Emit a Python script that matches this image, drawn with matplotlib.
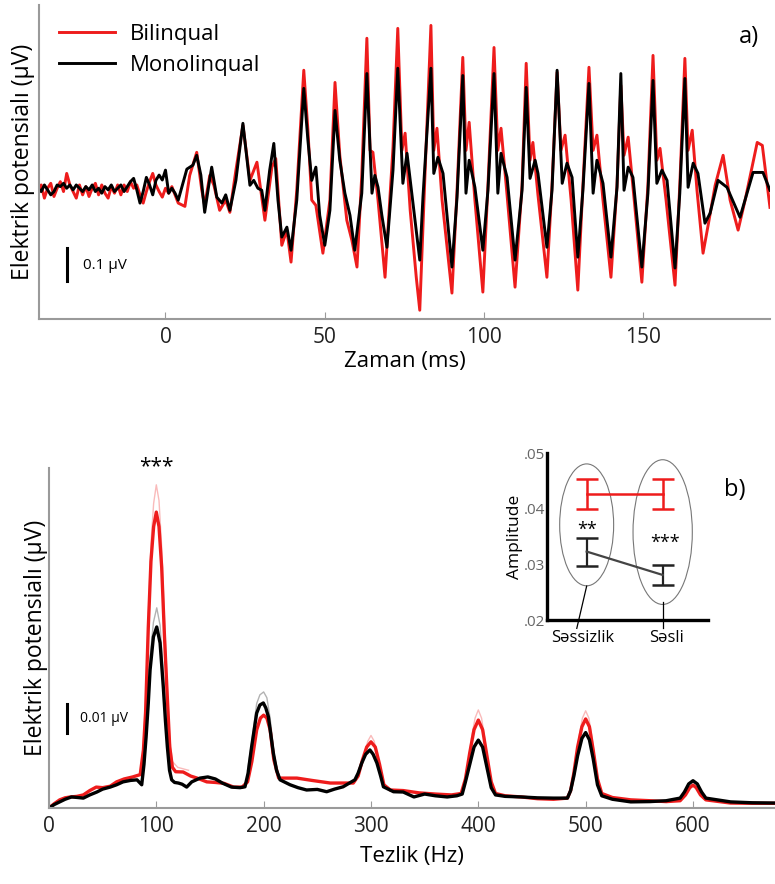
import numpy as np
import matplotlib.pyplot as plt
from matplotlib.patches import Ellipse

plt.rcParams['font.family'] = ['Open Sans', 'DejaVu Sans']

# ---------------- a) time domain (ms, uV) ----------------
t_black = [-40, -39, -38, -37, -36, -35, -34, -33, -32, -31, -30, -29, -28, -27, -26,
           -25, -24, -23, -22, -21, -20, -19, -18, -17, -16, -15, -14, -13, -12, -11,
           -10, -9, -8, -7, -6, -5, -4, -3, -2, -1, 0, 1, 2, 3, 4,
           6.7, 8.6, 9.8, 11.1, 12.3, 13.6, 14.5, 16.1, 17.7, 18.9, 20.2, 22.1, 24.3,
           26.5, 27.7, 29.0, 30.2, 31.2, 32.7, 34.0, 35.3, 36.5, 38.1, 39.4, 41.2,
           43.4, 44.7, 45.9, 47.2, 48.4, 50.0, 51.6, 53.2, 54.7, 56.3, 57.9, 59.4,
           61.6, 63.2, 64.8, 65.7, 66.7, 67.9, 69.5, 71.4, 72.9, 74.5, 75.8, 77.3,
           79.8, 80.8, 83.3, 84.2, 85.5, 87.1, 89.9, 91.5, 93.3, 94.3, 95.3, 97.1,
           99.6, 101.2, 103.1, 104.3, 105.3, 107.2, 109.7, 111.9, 113.2, 114.4, 116.0,
           116.9, 119.7, 121.3, 122.9, 124.5, 126.0, 127.6, 129.4, 131.0, 132.9,
           134.2, 135.4, 137.3, 139.8, 141.7, 142.9, 143.9, 145.2, 146.7, 149.5,
           151.4, 153.0, 154.2, 155.8, 157.4, 159.9, 161.4, 163.0, 164.0, 165.6,
           167.1, 169.3, 170.9, 173.4, 176.2, 180.3, 184.4, 187.5, 189.7]
v_black = [0.00, -0.01, 0.01, -0.005, -0.02, -0.01, 0.01, 0.005, 0.015, 0.0, 0.01,
           -0.005, 0.01, 0.0, -0.01, 0.005, -0.005, 0.01, -0.01, 0.0, -0.015, 0.005,
           -0.005, 0.01, -0.01, 0.0, 0.01, -0.01, 0.005, 0.02, 0.03, -0.005, -0.045,
           -0.01, 0.033, 0.01, -0.02, 0.024, 0.04, 0.025, 0.055, -0.015, 0.0, -0.015,
           -0.036,
           0.058, 0.07, 0.10, 0.04, -0.073, 0.01, 0.064, -0.027, -0.045, -0.02, -0.067,
           0.024, 0.197, 0.009, 0.024, 0.0, -0.006, -0.067, 0.055, 0.136, -0.036,
           -0.148, -0.118, -0.188, -0.036, 0.303, 0.145, 0.024, 0.064, -0.082, -0.173,
           -0.067, 0.236, 0.085, -0.015, -0.082, -0.188, -0.015, 0.348, -0.015, 0.039,
           0.003, -0.082, -0.179, 0.055, 0.364, 0.015, 0.106, -0.015, -0.218, -0.027,
           0.364, 0.045, 0.094, 0.045, -0.239, -0.027, 0.342, -0.015, 0.085, 0.003,
           -0.188, -0.006, 0.348, -0.015, 0.106, 0.033, -0.218, -0.006, 0.306, 0.03,
           0.085, 0.045, -0.179, -0.006, 0.358, 0.015, 0.076, 0.033, -0.209, -0.006,
           0.318, -0.015, 0.085, 0.015, -0.209, 0.003, 0.348, -0.006, 0.064, 0.033,
           -0.239, -0.015, 0.327, 0.015, 0.055, 0.024, -0.242, -0.015, 0.333, 0.003,
           0.076, 0.045, -0.106, -0.076, 0.024, 0.003, -0.088, 0.048, 0.048, -0.006]

t_red = [-40, -39, -38, -37, -36, -35, -34, -33, -32, -31, -30, -29, -28, -27, -26,
         -25, -24, -23, -22, -21, -20, -19, -18, -17, -16, -15, -14, -13, -12, -11,
         -10, -9, -8, -7, -6, -5, -4, -3, -2, -1, 0, 1, 2, 3, 4,
         6.1, 7.6, 9.8, 11.4, 12.3, 13.9, 15.2, 17.0, 18.9, 20.2, 22.1, 24.3, 26.5,
         28.7, 31.2, 33.4, 34.6, 36.5, 38.1, 39.4, 41.2, 43.4, 44.7, 45.9, 47.2,
         49.4, 51.6, 53.2, 54.7, 56.9, 58.5, 60.1, 61.6, 63.2, 64.2, 65.1, 66.7,
         68.9, 71.4, 72.9, 74.2, 75.2, 76.8, 78.7, 79.8, 81.4, 83.3, 84.2, 85.2,
         86.8, 89.9, 91.5, 93.3, 94.3, 95.3, 97.1, 99.6, 101.2, 103.1, 104.3, 105.3,
         107.2, 109.7, 111.9, 113.2, 114.4, 115.3, 116.9, 119.7, 121.3, 122.9, 124.1,
         125.4, 127.3, 129.4, 131.0, 132.9, 134.2, 135.4, 137.3, 139.8, 141.7, 142.9,
         143.9, 145.2, 147.1, 149.5, 151.4, 153.0, 154.2, 155.2, 157.1, 159.9, 161.4,
         163.0, 164.0, 165.3, 166.8, 168.7, 170.3, 172.5, 175.0, 177.2, 179.7, 181.9,
         185.7, 187.3, 189.7]
v_red = [-0.02, 0.01, -0.03, 0.0, 0.015, -0.025, 0.0, 0.02, -0.01, 0.045, 0.01, -0.01,
         -0.03, 0.01, -0.02, 0.005, -0.025, 0.0, 0.015, -0.02, 0.01, -0.015, -0.03,
         0.005, -0.015, 0.01, -0.02, 0.01, -0.01, 0.02, 0.0, 0.01, -0.02, -0.045,
         -0.01, 0.02, 0.045, 0.01, -0.01, -0.027, 0.0, -0.015, 0.005, -0.02, -0.045,
         -0.055, 0.039, 0.109, -0.006, -0.052, 0.039, 0.009, -0.067, -0.036, -0.073,
         0.055, 0.191, 0.024, 0.079, -0.097, 0.064, 0.09, -0.173, -0.127, -0.224,
         -0.006, 0.358, 0.176, -0.036, -0.052, -0.197, -0.036, 0.321, 0.1, -0.097,
         -0.158, -0.239, 0.039, 0.455, 0.115, 0.109, -0.036, -0.27, 0.124, 0.485,
         0.115, 0.167, -0.067, -0.27, -0.37, 0.033, 0.494, 0.115, 0.182, -0.036,
         -0.318, -0.006, 0.397, 0.115, 0.2, -0.036, -0.315, 0.009, 0.427, 0.115,
         0.182, -0.021, -0.3, 0.009, 0.379, 0.085, 0.139, -0.021, -0.27, 0.009, 0.352,
         0.115, 0.161, -0.036, -0.309, 0.009, 0.367, 0.115, 0.161, -0.036, -0.27,
         0.009, 0.312, 0.1, 0.155, -0.036, -0.285, 0.009, 0.403, 0.085, 0.121, -0.036,
         -0.294, 0.009, 0.394, 0.115, 0.176, -0.006, -0.197, -0.112, 0.009, 0.1,
         -0.036, -0.127, -0.036, 0.139, 0.13, -0.058]

# ---------------- b) spectrum (Hz, uV) ----------------
f_red = [0, 5, 10, 15, 20, 26, 32, 38, 44, 50, 57, 63, 70, 78, 85, 88, 90, 92.5, 95,
         97.5, 100, 102.5, 105, 107.5, 110, 112.5, 115, 118, 125, 132, 138, 147, 155,
         163, 172, 180, 185, 189, 193.5, 197, 200, 203, 206, 209.5, 214, 222, 231, 245,
         262, 275, 283.5, 288, 292, 296, 300, 304, 308, 312, 318, 330, 345, 360, 375,
         384, 388, 392, 396, 400, 404, 408, 412, 416, 425, 440, 455, 470, 483, 486,
         489, 492.5, 496.5, 500, 503.5, 507, 511, 515, 525, 542, 560, 575, 588, 593,
         597, 600, 603, 607, 612, 635, 655, 677]
s_red = [0.0, 0.0015, 0.0028, 0.0035, 0.0038, 0.004, 0.0045, 0.006, 0.0072, 0.007,
         0.0075, 0.009, 0.010, 0.0107, 0.0115, 0.020, 0.033, 0.062, 0.085, 0.097, 0.102,
         0.097, 0.083, 0.060, 0.040, 0.021, 0.014, 0.0125, 0.0124, 0.011, 0.0103, 0.009,
         0.0088, 0.0085, 0.0072, 0.0072, 0.009, 0.016, 0.0269, 0.031, 0.032, 0.031,
         0.027, 0.0166, 0.0103, 0.0103, 0.0103, 0.0095, 0.0086, 0.0086, 0.0086, 0.011,
         0.0165, 0.021, 0.0228, 0.021, 0.015, 0.008, 0.0062, 0.006, 0.0052, 0.0048,
         0.0045, 0.005, 0.010, 0.019, 0.027, 0.0303, 0.027, 0.018, 0.009, 0.005, 0.0042,
         0.0038, 0.0032, 0.003, 0.0034, 0.006, 0.012, 0.021, 0.028, 0.0307, 0.028, 0.020,
         0.010, 0.005, 0.0036, 0.0028, 0.0025, 0.0022, 0.0025, 0.0045, 0.007, 0.0079,
         0.007, 0.0045, 0.0028, 0.0017, 0.0016, 0.0016]

f_black = [0, 5, 10, 15, 21, 27, 32, 38, 44.6, 50, 57, 63, 69, 76, 82, 86.4, 88.5, 90.5,
           92.5, 94.2, 97.3, 100.4, 103.5, 106.5, 108.5, 110.3, 112.3, 114.3, 117, 120.5,
           124, 128.3, 133, 140.7, 148, 155, 162, 170, 178, 182.6, 185.5, 188.8, 193.5,
           196.5, 199.7, 202, 204.4, 209, 212, 215.3, 224.6, 232, 240, 250, 258.7, 266,
           274, 285, 288, 291.4, 295, 299, 302, 305.5, 309, 311.6, 321, 330, 340, 350,
           360, 371, 380, 385, 388, 392, 396, 400, 404, 408, 412, 416, 425, 440, 455, 470,
           483, 486, 489, 492.5, 496.5, 500, 503.5, 507, 511, 515, 525, 542, 560, 575,
           588, 592, 596, 600, 604, 608, 612, 635, 655, 677]
s_black = [0.0, 0.0012, 0.0021, 0.003, 0.0038, 0.0036, 0.0034, 0.0045, 0.0055, 0.0065,
           0.0072, 0.008, 0.009, 0.0095, 0.0097, 0.008, 0.015, 0.0245, 0.036, 0.0476,
           0.059, 0.0624, 0.0569, 0.0417, 0.030, 0.021, 0.013, 0.0097, 0.0088, 0.0086,
           0.0082, 0.0072, 0.009, 0.0103, 0.0107, 0.010, 0.0085, 0.0072, 0.007, 0.0073,
           0.012, 0.0211, 0.0327, 0.0355, 0.0362, 0.0345, 0.0315, 0.019, 0.013, 0.0097,
           0.008, 0.007, 0.0062, 0.0064, 0.0056, 0.0065, 0.0073, 0.0097, 0.012, 0.0155,
           0.0185, 0.020, 0.0185, 0.0155, 0.011, 0.0073, 0.0056, 0.0055, 0.0038, 0.0048,
           0.0042, 0.0038, 0.0042, 0.0048, 0.009, 0.015, 0.021, 0.0234, 0.021, 0.014,
           0.007, 0.0045, 0.004, 0.0038, 0.0035, 0.0034, 0.0034, 0.006, 0.011, 0.018,
           0.024, 0.026, 0.0235, 0.017, 0.008, 0.0042, 0.003, 0.0021, 0.0022, 0.0025,
           0.0034, 0.0055, 0.0083, 0.0094, 0.0083, 0.0055, 0.0034, 0.0021, 0.0018, 0.0017]

# faint upper traces around the peaks (nan = gap)
f_red_up = [86, 90, 92.5, 95, 97.5, 100, 102.5, 105, 107.5, 110, 112.5, 115, 120, 130, np.nan,
            290, 294, 297, 300, 303, 306, 310, np.nan,
            386, 390, 394, 397, 400, 403, 406, 410, 414, np.nan,
            486, 490, 494, 497, 500, 503, 506, 510, 514]
s_red_up = [0.012, 0.035, 0.066, 0.091, 0.105, 0.1114, 0.106, 0.090, 0.066, 0.044, 0.024,
            0.016, 0.014, 0.013, np.nan,
            0.013, 0.019, 0.023, 0.025, 0.023, 0.018, 0.011, np.nan,
            0.006, 0.014, 0.025, 0.031, 0.0338, 0.031, 0.024, 0.013, 0.006, np.nan,
            0.006, 0.014, 0.025, 0.031, 0.0335, 0.031, 0.024, 0.013, 0.006]
f_blk_up = [86, 90.5, 92.5, 94.2, 97.3, 100.4, 103.5, 106.5, 110.3, 114, np.nan,
            185, 189, 193.5, 196.5, 200, 203, 206, 210, 215]
s_blk_up = [0.009, 0.027, 0.040, 0.052, 0.064, 0.069, 0.063, 0.046, 0.023, 0.011, np.nan,
            0.013, 0.023, 0.036, 0.039, 0.040, 0.038, 0.031, 0.018, 0.010]

# ---------------- inset ----------------
conds = ['Səssizlik', 'Səsli']
bil_mean = [0.0426, 0.0426]
bil_lo = [0.0399, 0.0399]
bil_hi = [0.0453, 0.0453]
mon_mean = [0.0323, 0.0281]
mon_lo = [0.0297, 0.0263]
mon_hi = [0.0347, 0.0299]

RED = '#ee1c1c'
GREY = '#9a9a9a'

fig = plt.figure(figsize=(7.75, 8.84), dpi=100)

# ----- panel a -----
ax1 = fig.add_axes([0.0503, 0.639, 0.9432, 0.355])
ax1.plot(t_red, v_red, color=RED, lw=2.1, label='Bilinqual')
ax1.plot(t_black, v_black, color='black', lw=2.1, label='Monolinqual')
ax1.set_xlim(-39.7, 189.7)
ax1.set_ylim(-0.397, 0.555)
ax1.set_xticks([0, 50, 100, 150])
ax1.set_yticks([])
for s in ['top', 'right']:
    ax1.spines[s].set_visible(False)
for s in ['left', 'bottom']:
    ax1.spines[s].set_color(GREY)
    ax1.spines[s].set_linewidth(1.5)
ax1.tick_params(axis='x', direction='in', length=5, color=GREY, labelsize=15,
                labelcolor='#222222', pad=6)
ax1.set_xlabel('Zaman (ms)', fontsize=16, labelpad=2)
ax1.set_ylabel('Elektrik potensialı (µV)', fontsize=16.5, labelpad=3)
ax1.legend(loc='upper left', bbox_to_anchor=(0.0, 1.005), frameon=False,
           fontsize=16, handlelength=2.5, handletextpad=0.7, labelspacing=0.45)
ax1.plot([-31, -31], [-0.182, -0.282], color='black', lw=2.2)
ax1.text(-26, -0.235, '0.1 µV', fontsize=11, va='center')
ax1.text(0.985, 0.88, 'a)', transform=ax1.transAxes, fontsize=17, ha='right')

# ----- panel b -----
ax2 = fig.add_axes([0.0632, 0.086, 0.9368, 0.3846])
ax2.plot(f_red_up, s_red_up, color=RED, lw=1, alpha=0.3)
ax2.plot(f_blk_up, s_blk_up, color='black', lw=1, alpha=0.3)
ax2.plot(f_red, s_red, color=RED, lw=2.4)
ax2.plot(f_black, s_black, color='black', lw=2.4)
ax2.set_xlim(0, 676.4)
ax2.set_ylim(0, 0.1172)
ax2.set_xticks([0, 100, 200, 300, 400, 500, 600])
ax2.set_yticks([])
for s in ['top', 'right']:
    ax2.spines[s].set_visible(False)
for s in ['left', 'bottom']:
    ax2.spines[s].set_color(GREY)
    ax2.spines[s].set_linewidth(1.5)
ax2.tick_params(axis='x', direction='in', length=5, color=GREY, labelsize=15,
                labelcolor='#222222', pad=6)
ax2.set_xlabel('Tezlik (Hz)', fontsize=16, labelpad=6)
ax2.set_ylabel('Elektrik potensialı (µV)', fontsize=16.5, labelpad=1)
ax2.plot([16.8, 16.8], [0.0359, 0.0259], color='black', lw=2.2)
ax2.text(29, 0.031, '0.01 µV', fontsize=10, va='center')
ax2.text(100, 0.1175, '***', fontsize=15, ha='center', va='center', clip_on=False)

# ----- inset -----
ax3 = fig.add_axes([0.7054, 0.2986, 0.2085, 0.1889])
ax3.set_xlim(-0.526, 1.6)
ax3.set_ylim(0.02, 0.05)
ax3.patch.set_alpha(0)
xs = np.arange(len(conds))
ax3.errorbar(xs, bil_mean, yerr=[np.subtract(bil_mean, bil_lo), np.subtract(bil_hi, bil_mean)],
             color=RED, lw=1.8, capsize=8, capthick=1.8)
ax3.errorbar(xs, mon_mean, yerr=[np.subtract(mon_mean, mon_lo), np.subtract(mon_hi, mon_mean)],
             color='#444444', lw=1.6, capsize=8, capthick=1.8, ecolor='#222222')
ax3.add_patch(Ellipse((0, 0.0371), 0.71, 0.0219, fill=False, ec='#777777', lw=0.8))
ax3.add_patch(Ellipse((1, 0.0358), 0.78, 0.026, fill=False, ec='#777777', lw=0.8))
ax3.plot([0, -0.13], [0.0261, 0.0185], color='black', lw=0.9, clip_on=False)
ax3.plot([1, 1.0], [0.0232, 0.0185], color='black', lw=0.9, clip_on=False)
ax3.text(0, 0.0362, '**', fontsize=13, ha='center', va='center')
ax3.text(1.03, 0.0338, '***', fontsize=13, ha='center', va='center')
ax3.set_yticks([0.02, 0.03, 0.04, 0.05])
ax3.set_yticklabels(['.02', '.03', '.04', '.05'])
ax3.set_xticks([])
ax3.tick_params(axis='y', length=0, labelsize=11, labelcolor='#666666', pad=1)
for s in ['top', 'right']:
    ax3.spines[s].set_visible(False)
for s in ['left', 'bottom']:
    ax3.spines[s].set_linewidth(2.4)
ax3.set_ylabel('Amplitude', fontsize=12.5, labelpad=1)
ax3.text(-0.05, 0.0167, conds[0], fontsize=12, ha='center', va='center')
ax3.text(1.05, 0.0167, conds[1], fontsize=12, ha='center', va='center')
fig.text(0.9613, 0.4457, 'b)', fontsize=17, ha='right', va='center')

fig.savefig('out.png', dpi=100)
